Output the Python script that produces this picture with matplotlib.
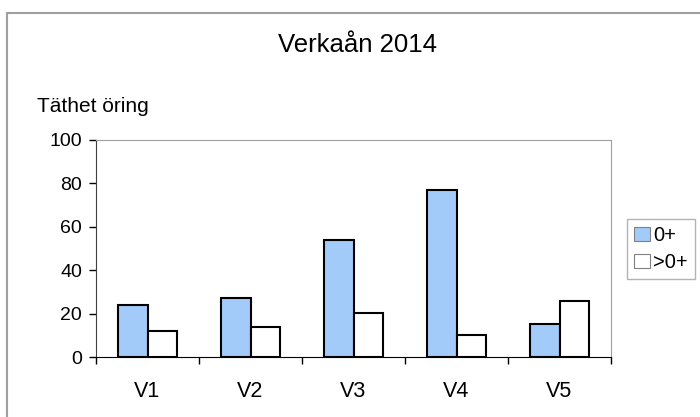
import numpy as np
import matplotlib.pyplot as plt
from matplotlib.patches import Rectangle

plt.rcParams['font.family'] = ['Liberation Sans', 'DejaVu Sans']

# data
sites = ['V1', 'V2', 'V3', 'V4', 'V5']
young = [24, 27, 54, 77, 15]    # 0+
older = [12, 14, 20.5, 10, 26]  # >0+
yticks = [0, 20, 40, 60, 80, 100]

fig = plt.figure(figsize=(7, 4.17), dpi=100)

# outer chart frame (runs off the right/bottom edge like the screenshot)
fig.patches.append(Rectangle((7 / 700, -0.05), 1.0, 1 - 13 / 417 + 0.05,
                             transform=fig.transFigure, fill=False,
                             edgecolor='#a0a0a0', linewidth=1.5))

ax = fig.add_axes([96 / 700, 1 - 357 / 417, (611 - 96) / 700, (357 - 140) / 417])

x = np.arange(len(sites))
w = 1 / 3.5
ax.bar(x - w / 2, young, w, color='#a3cbfa', edgecolor='black', linewidth=1.5, label='0+')
ax.bar(x + w / 2, older, w, color='white', edgecolor='black', linewidth=1.5, label='>0+')

ax.set_xlim(-0.5, len(sites) - 0.5)
ax.set_ylim(0, 100)
ax.set_yticks(yticks)
ax.tick_params(axis='y', labelsize=14, length=5, width=1, direction='out', pad=5)

# category labels centred, ticks on category boundaries
ax.set_xticks(x)
ax.set_xticklabels(sites, fontsize=15.5)
ax.tick_params(axis='x', length=0, pad=17)
ax.set_xticks(np.arange(-0.5, len(sites)), minor=True)
ax.tick_params(axis='x', which='minor', length=5, width=1, direction='out')

for s in ['top', 'right']:
    ax.spines[s].set_color('#a0a0a0')
ax.spines['left'].set_color('#404040')
ax.spines['bottom'].set_color('black')

fig.text(358 / 700, 1 - 45 / 417, 'Verkaån 2014', ha='center', va='center', fontsize=18.5)
fig.text(37 / 700, 1 - 106 / 417, 'Täthet öring', ha='left', va='center', fontsize=15)

leg = fig.legend(loc='upper left', bbox_to_anchor=(627 / 700, 1 - 219 / 417),
                 borderaxespad=0, fontsize=14.5, frameon=True, fancybox=False,
                 handlelength=0.8, handleheight=0.75, handletextpad=0.15,
                 borderpad=0.35, labelspacing=0.4)
leg.get_frame().set_edgecolor('#a0a0a0')
leg.get_frame().set_linewidth(1)
for h in leg.legend_handles:
    h.set_linewidth(0.8)
    h.set_edgecolor('#808080')

fig.savefig('out.png', dpi=100)
